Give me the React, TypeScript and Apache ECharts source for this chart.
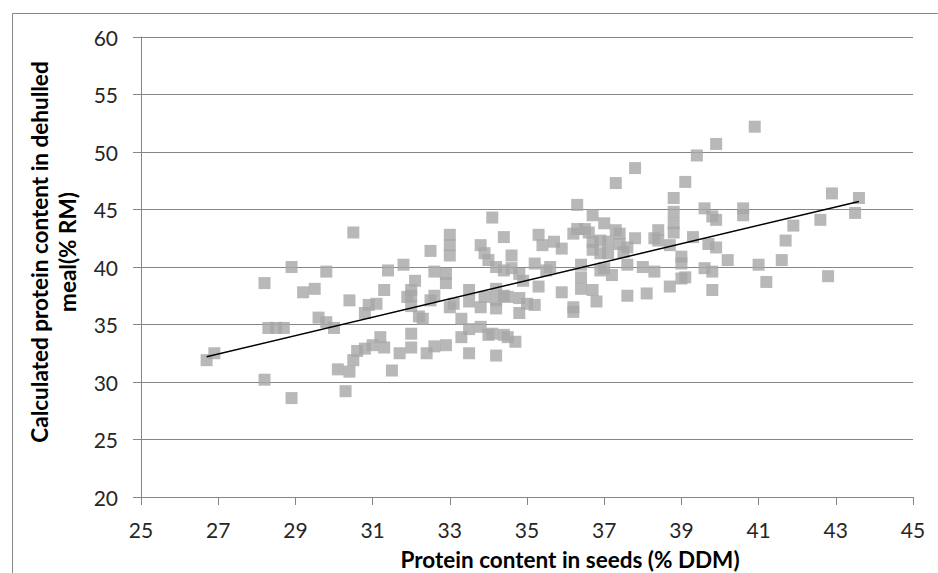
import { useEffect, useRef } from "react";
import * as echarts from "echarts";

// Protein content in seeds (% DDM)
const seedProtein = [
  26.7, 26.9, 28.2, 28.2, 28.3, 28.5, 28.7, 28.9, 28.9, 29.2,
  29.5, 29.6, 29.8, 29.8, 30.0, 30.1, 30.3, 30.4, 30.4, 30.5,
  30.5, 30.6, 30.8, 30.9, 30.8, 31.0, 31.1, 31.2, 31.3, 31.3,
  31.4, 31.5, 31.7, 31.8, 31.9, 32.0, 32.0, 32.0, 32.1, 32.0,
  32.0, 32.2, 32.3, 32.4, 32.5, 32.5, 32.6, 32.6, 32.6, 32.9,
  32.9, 32.9, 33.0, 33.1, 33.0, 33.0, 33.0, 33.3, 33.3, 33.5,
  33.5, 33.5, 33.5, 33.8, 33.8, 33.8, 33.9, 33.9, 34.0, 34.0,
  34.1, 34.1, 34.2, 34.2, 34.2, 34.2, 34.2, 34.4, 34.4, 34.4,
  34.4, 34.5, 34.5, 34.6, 34.6, 34.7, 34.8, 34.8, 34.8, 34.9,
  35.0, 35.2, 35.2, 35.3, 35.3, 35.4, 35.5, 35.6, 35.7, 35.9,
  35.9, 36.2, 36.2, 36.2, 36.3, 36.3, 36.4, 36.4, 36.4, 36.5,
  36.6, 36.7, 36.7, 36.7, 36.7, 36.8, 36.9, 36.9, 36.9, 37.0,
  37.0, 37.1, 37.1, 37.2, 37.3, 37.3, 37.4, 37.4, 37.5, 37.6,
  37.6, 37.6, 37.8, 37.8, 38.0, 38.1, 38.3, 38.3, 38.4, 38.4,
  38.7, 38.7, 38.8, 38.8, 38.8, 38.8, 39.0, 39.0, 39.0, 39.1,
  39.1, 39.3, 39.4, 39.6, 39.6, 39.7, 39.8, 39.8, 39.8, 39.9,
  39.9, 39.9, 40.2, 40.6, 40.6, 40.9, 41.0, 41.2, 41.6, 41.7,
  41.9, 42.6, 42.8, 42.9, 43.5, 43.6,
];

// Calculated protein content in dehulled meal (% RM)
const mealProtein = [
  31.9, 32.5, 38.6, 30.2, 34.7, 34.7, 34.7, 28.6, 40.0, 37.8,
  38.1, 35.6, 39.6, 35.2, 34.7, 31.1, 29.2, 30.9, 37.1, 43.0,
  31.9, 32.7, 32.9, 36.7, 36.0, 33.2, 36.8, 33.9, 33.0, 38.0,
  39.7, 31.0, 32.5, 40.2, 37.4, 38.0, 37.5, 36.6, 38.8, 34.2,
  33.0, 35.7, 35.5, 32.5, 41.4, 37.1, 39.6, 37.5, 33.1, 39.4,
  38.6, 33.2, 36.5, 36.8, 42.8, 41.9, 41.0, 35.5, 33.9, 38.0,
  37.0, 34.6, 32.5, 41.9, 36.5, 34.8, 41.2, 37.4, 40.6, 34.1,
  44.3, 34.2, 38.1, 40.0, 37.1, 36.4, 32.3, 42.6, 39.7, 37.5,
  34.1, 37.4, 33.9, 41.0, 39.9, 33.5, 37.3, 39.4, 36.0, 38.8,
  36.8, 36.7, 40.3, 42.8, 38.3, 41.9, 39.7, 40.0, 42.2, 41.6,
  37.8, 42.9, 36.5, 36.1, 45.4, 43.3, 40.2, 39.1, 38.1, 43.3,
  43.0, 44.5, 41.5, 42.2, 38.0, 37.0, 41.2, 39.7, 42.3, 43.8,
  39.9, 42.2, 41.2, 39.3, 43.2, 47.3, 42.9, 42.0, 41.3, 41.7,
  40.2, 37.5, 42.5, 48.6, 40.0, 37.7, 39.6, 42.5, 43.2, 42.3,
  38.3, 41.9, 46.0, 44.8, 43.8, 43.0, 40.9, 40.3, 39.0, 47.4,
  39.1, 42.6, 49.7, 45.1, 39.9, 42.0, 44.4, 39.6, 38.0, 44.1,
  41.7, 50.7, 40.6, 45.1, 44.5, 52.2, 40.2, 38.7, 40.6, 42.3,
  43.6, 44.1, 39.2, 46.4, 44.7, 46.0,
];

// Linear trend line end points
const trendSeed = [26.7, 43.6];
const trendMeal = [32.2, 45.7];

const xAxisTitle = "Protein content in seeds (% DDM)";
const yAxisTitleLines = ["Calculated protein content in dehulled", "meal(% RM)"];

const FONT = "Lato, 'Open Sans', sans-serif";
const GRID_COLOR = "#868686";
const TITLE_FONT = `bold 22.5px ${FONT}`;

export default function App() {
  const ref = useRef<HTMLDivElement>(null);

  useEffect(() => {
    if (!ref.current) return;
    const chart = echarts.init(ref.current, null, { renderer: "svg" });
    const points = seedProtein.map((x, i) => [x, mealProtein[i]]);
    const trend = trendSeed.map((x, i) => [x, trendMeal[i]]);

    const titleStyle = (text: string) => ({
      text,
      font: TITLE_FONT,
      fill: "#000",
      textAlign: "center",
      textVerticalAlign: "middle",
      align: "center",
      verticalAlign: "middle",
    });

    chart.setOption({
      animation: false,
      backgroundColor: "#ffffff",
      grid: { left: 141, right: 25, top: 37, bottom: 76 },
      xAxis: {
        type: "value",
        min: 25,
        max: 45,
        interval: 2,
        axisLine: { show: true, lineStyle: { color: GRID_COLOR, width: 1 } },
        axisTick: { show: true, length: 8, lineStyle: { color: GRID_COLOR } },
        splitLine: { show: false },
        axisLabel: {
          color: "#262626",
          fontFamily: FONT,
          fontSize: 21,
          margin: 22,
        },
      },
      yAxis: {
        type: "value",
        min: 20,
        max: 60,
        interval: 5,
        axisLine: { show: true, lineStyle: { color: GRID_COLOR, width: 1 } },
        axisTick: { show: true, length: 8, lineStyle: { color: GRID_COLOR } },
        splitLine: { show: true, lineStyle: { color: GRID_COLOR, width: 1 } },
        axisLabel: {
          color: "#262626",
          fontFamily: FONT,
          fontSize: 21,
          margin: 23,
        },
      },
      graphic: [
        {
          type: "rect",
          shape: { x: 12.5, y: 13.5, width: 960, height: 600 },
          style: { fill: "none", stroke: GRID_COLOR, lineWidth: 1 },
          silent: true,
        },
        {
          type: "text",
          x: 39,
          y: 252,
          rotation: Math.PI / 2,
          style: titleStyle(yAxisTitleLines[0]),
        },
        {
          type: "text",
          x: 67,
          y: 252,
          rotation: Math.PI / 2,
          style: titleStyle(yAxisTitleLines[1]),
        },
        {
          type: "text",
          x: 570,
          y: 559,
          style: titleStyle(xAxisTitle),
        },
      ],
      series: [
        {
          type: "scatter",
          data: points,
          symbol: "rect",
          symbolSize: 12,
          itemStyle: { color: "#A6A6A6" },
          z: 2,
        },
        {
          type: "line",
          data: trend,
          symbol: "none",
          lineStyle: { color: "#000000", width: 1.5 },
          z: 3,
        },
      ],
    });

    return () => chart.dispose();
  }, []);

  return (
    <div
      ref={ref}
      style={{ position: "fixed", left: 0, top: 0, width: 938, height: 573, background: "#fff" }}
    />
  );
}
